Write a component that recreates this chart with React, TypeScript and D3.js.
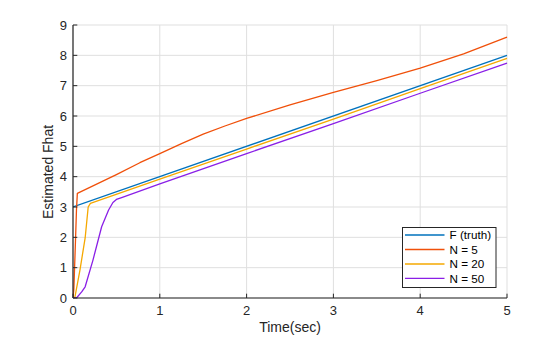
import React from "react";
import * as d3 from "d3";

const W = 560;
const H = 337;

const xTicks = [0, 1, 2, 3, 4, 5];
const yTicks = [0, 1, 2, 3, 4, 5, 6, 7, 8, 9];

const seriesNames = ["F (truth)", "N = 5", "N = 20", "N = 50"];
const seriesColors = ["#0072BD", "#F0500A", "#F5A800", "#8A1FE6"];

const truthT = [0, 5];
const truthV = [3, 8];

const n5T = [0, 0.01, 0.03, 0.04, 0.05, 0.5, 0.77, 1.0, 1.25, 1.5, 1.75, 2.0, 2.5, 3.0, 3.5, 4.0, 4.5, 5.0];
const n5V = [0, 0.3, 2.0, 2.9, 3.45, 4.07, 4.46, 4.76, 5.09, 5.4, 5.67, 5.92, 6.37, 6.78, 7.17, 7.58, 8.05, 8.6];

const n20T = [0, 0.02, 0.08, 0.14, 0.175, 0.2, 1, 2, 3, 4, 5];
const n20V = [0, 0, 0.92, 1.98, 3.0, 3.12, 3.92, 4.91, 5.9, 6.9, 7.9];

const n50T = [0, 0.04, 0.1, 0.14, 0.23, 0.33, 0.41, 0.46, 0.5, 0.56, 1, 2, 3, 4, 5];
const n50V = [0, 0, 0.2, 0.37, 1.25, 2.35, 2.9, 3.15, 3.25, 3.31, 3.76, 4.76, 5.75, 6.75, 7.74];

const seriesT = [truthT, n5T, n20T, n50T];
const seriesV = [truthV, n5V, n20V, n50V];

const left = 73;
const right = 507;
const top = 25;
const bottom = 298;

export default function App() {
  const x = d3.scaleLinear().domain([0, 5]).range([left, right]);
  const y = d3.scaleLinear().domain([0, 9]).range([bottom, top]);
  const line = d3
    .line<[number, number]>()
    .x((d) => x(d[0]))
    .y((d) => y(d[1]));

  const axisColor = "#262626";
  const font = "Arial, 'Liberation Sans', Helvetica, sans-serif";
  const tickLen = 4.3;

  const lx0 = 402.5;
  const ly0 = 227.5;
  const lw = 93.5;
  const lh = 60;
  const rowY = [235, 249.5, 264, 278.3];

  return (
    <svg
      width={W}
      height={H}
      style={{ position: "absolute", left: 0, top: 0, background: "#fff" }}
      fontFamily={font}
    >
      <rect x={0} y={0} width={W} height={H} fill="#ffffff" />
      {xTicks.map((t) => (
        <line key={"gx" + t} x1={x(t)} x2={x(t)} y1={top} y2={bottom} stroke="#dfdfdf" strokeWidth={1} />
      ))}
      {yTicks.map((t) => (
        <line key={"gy" + t} x1={left} x2={right} y1={y(t)} y2={y(t)} stroke="#dfdfdf" strokeWidth={1} />
      ))}
      <defs>
        <clipPath id="clip">
          <rect x={left} y={top - 1} width={right - left + 1} height={bottom - top + 1} />
        </clipPath>
      </defs>
      <g clipPath="url(#clip)">
        {seriesT.map((ts, i) => (
          <path
            key={"s" + i}
            d={line(ts.map((t, j) => [t, seriesV[i][j]] as [number, number])) || ""}
            fill="none"
            stroke={seriesColors[i]}
            strokeWidth={1.3}
            strokeLinejoin="round"
          />
        ))}
      </g>
      <line x1={left} x2={right} y1={bottom} y2={bottom} stroke={axisColor} strokeWidth={1.2} />
      <line x1={left} x2={left} y1={top} y2={bottom} stroke={axisColor} strokeWidth={1.2} />
      {xTicks.map((t) => (
        <g key={"xt" + t}>
          <line x1={x(t)} x2={x(t)} y1={bottom} y2={bottom - tickLen} stroke={axisColor} strokeWidth={1} />
          <text x={x(t)} y={315} textAnchor="middle" fontSize={13} fill={axisColor}>
            {t}
          </text>
        </g>
      ))}
      {yTicks.map((t) => (
        <g key={"yt" + t}>
          <line x1={left} x2={left + tickLen} y1={y(t)} y2={y(t)} stroke={axisColor} strokeWidth={1} />
          <text x={67} y={y(t) + 4.6} textAnchor="end" fontSize={13} fill={axisColor}>
            {t}
          </text>
        </g>
      ))}
      <text x={290} y={332} textAnchor="middle" fontSize={14} fill={axisColor}>
        Time(sec)
      </text>
      <text
        transform={`translate(53,172) rotate(-90)`}
        textAnchor="middle"
        fontSize={14}
        fill={axisColor}
      >
        Estimated Fhat
      </text>
      <rect x={lx0} y={ly0} width={lw} height={lh} fill="#ffffff" stroke={axisColor} strokeWidth={1} />
      {seriesNames.map((name, i) => (
        <g key={"lg" + i}>
          <line x1={405} x2={444.5} y1={rowY[i]} y2={rowY[i]} stroke={seriesColors[i]} strokeWidth={1.3} />
          <text x={449.5} y={rowY[i] + 4.2} fontSize={11.7} fill="#000">
            {name}
          </text>
        </g>
      ))}
    </svg>
  );
}
